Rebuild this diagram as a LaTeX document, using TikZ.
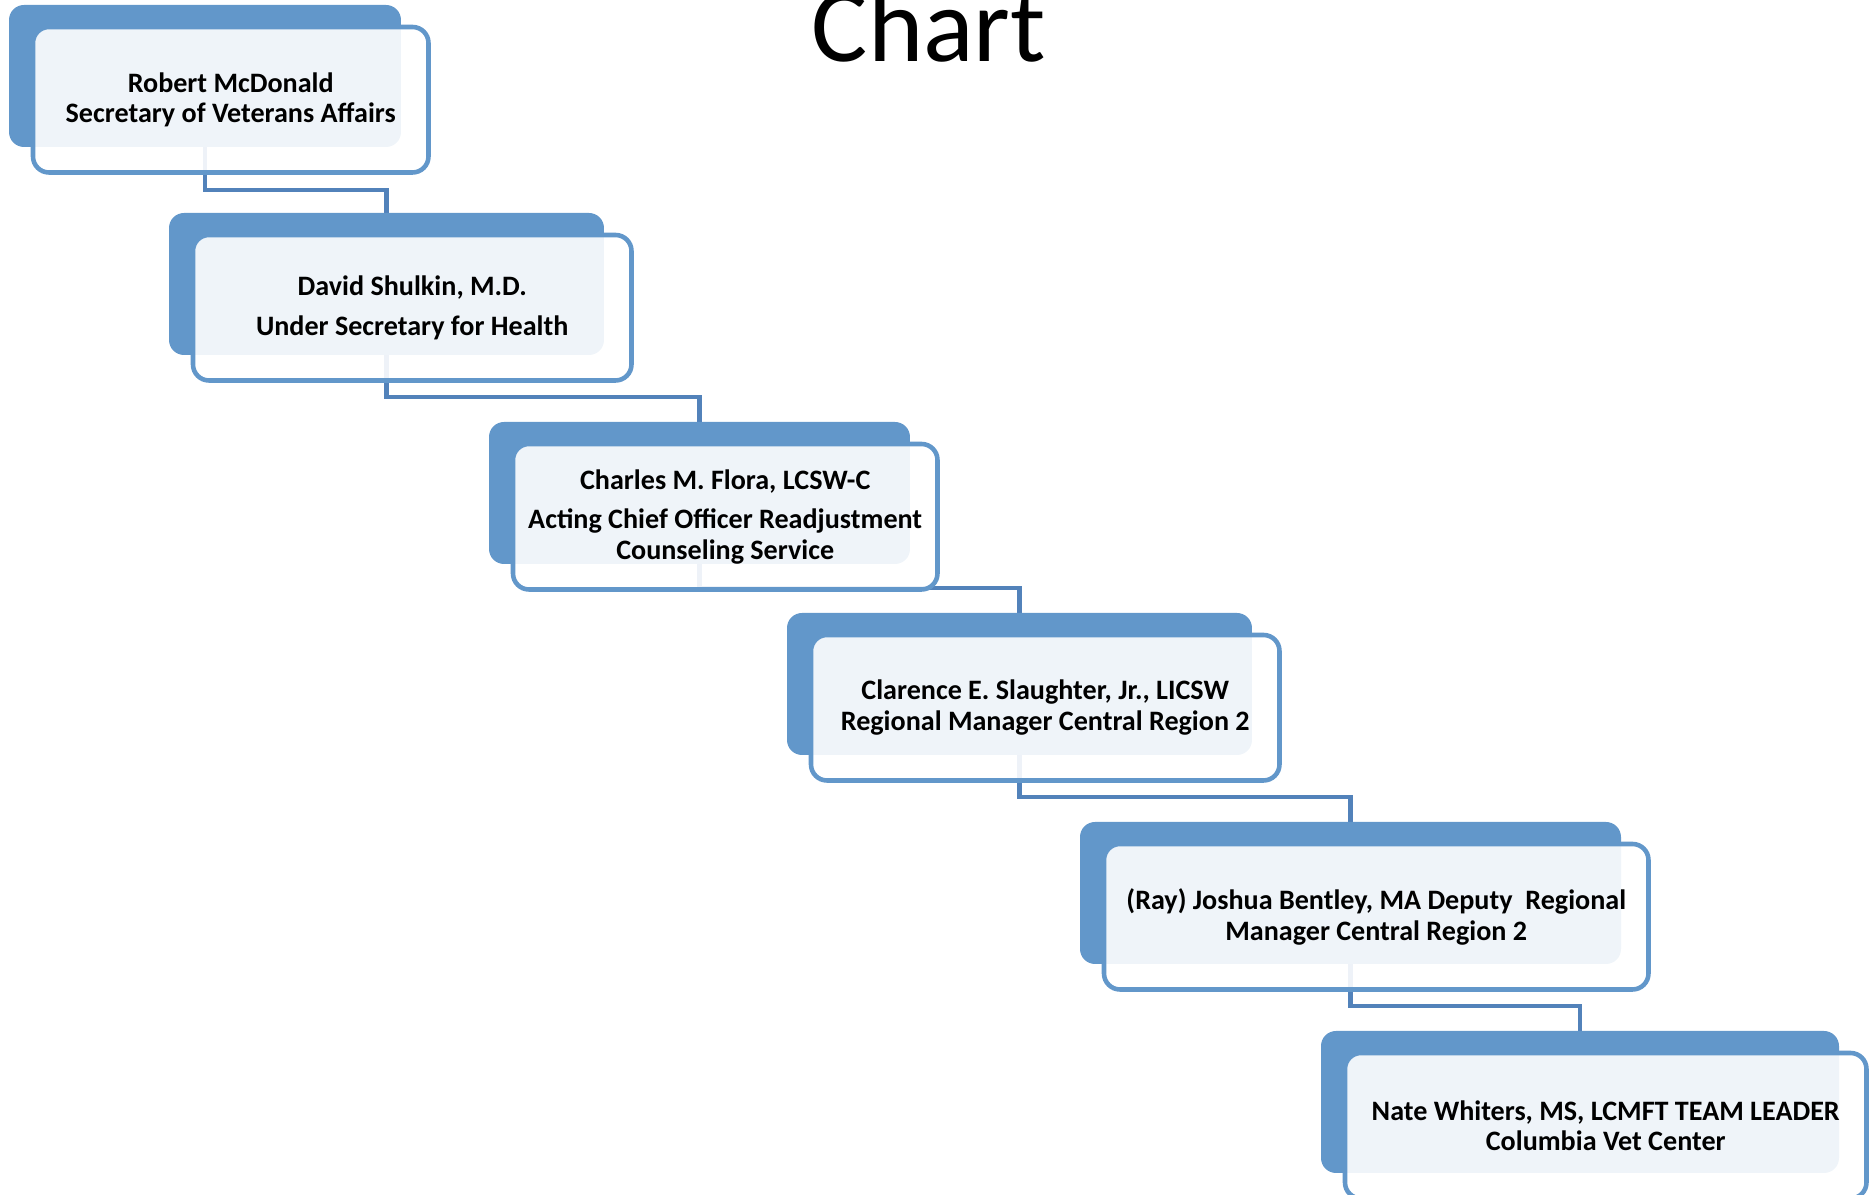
\documentclass[tikz,border=0pt]{standalone}
\usepackage{fontspec}
\setmainfont{Carlito}
\usetikzlibrary{positioning,backgrounds}
\definecolor{backblue}{RGB}{98,151,202}
\definecolor{linkblue}{RGB}{82,130,186}
\tikzset{
  back/.style={fill=backblue, rounded corners=1.5mm, inner sep=0, outer sep=0, anchor=north west, minimum height=14.2mm},
  card/.style={draw=backblue, line width=1.3pt, fill=white, fill opacity=0.9, text opacity=1,
    rounded corners=1.6mm, inner sep=0, outer sep=0, anchor=north west, minimum height=14.55mm,
    align=center, font=\bfseries\fontsize{8}{8.7}\selectfont,
    execute at begin node={\rule{0pt}{2.9mm}}},
  link/.style={draw=linkblue, line width=1.4pt}
}

\begin{document}
\begin{tikzpicture}[x=0.1mm, y=-0.1mm]
\useasboundingbox (0,0) rectangle (1876,1195);

\node[font=\fontsize{30}{36}\selectfont, anchor=base] (title) at (929,62) {Chart};

% back plates
\node[back, minimum width=39.2mm] (b1) at (9,5) {};
\node[back, minimum width=43.5mm] (b2) at (169,213) {};
\node[back, minimum width=42.1mm] (b3) at (489,422) {};
\node[back, minimum width=46.5mm] (b4) at (787,613) {};
\node[back, minimum width=54.1mm] (b5) at (1080,822) {};
\node[back, minimum width=51.8mm] (b6) at (1321,1031) {};

% text cards
\node[card, minimum width=39.55mm] (c1) at ([shift={(2.4mm,-2.2mm)}]b1.north west)
  {Robert McDonald\\Secretary of Veterans Affairs};
\node[card, minimum width=43.85mm] (c2) at ([shift={(2.4mm,-2.2mm)}]b2.north west)
  {David Shulkin, M.D.\\[2.6pt]Under Secretary for Health};
\node[card, minimum width=42.45mm] (c3) at ([shift={(2.4mm,-2.2mm)}]b3.north west)
  {Charles M. Flora, LCSW-C\\[2.6pt]Acting Chief Officer Readjustment\\Counseling Service};
\node[card, minimum width=46.85mm] (c4) at ([shift={(2.4mm,-2.2mm)}]b4.north west)
  {Clarence E. Slaughter, Jr., LICSW\\Regional Manager Central Region 2};
\node[card, minimum width=54.45mm] (c5) at ([shift={(2.4mm,-2.2mm)}]b5.north west)
  {(Ray) Joshua Bentley, MA Deputy~ Regional\\Manager Central Region 2};
\node[card, minimum width=52.15mm] (c6) at ([shift={(2.4mm,-2.2mm)}]b6.north west)
  {Nate Whiters, MS, LCMFT TEAM LEADER\\Columbia Vet Center};

% connectors
\begin{scope}[on background layer]
\draw[link] (b1.south) -- ++(0,43) -| (b2.north);
\draw[link] (b2.south) -- ++(0,42) -| (b3.north);
\draw[link] (b3.south) -- ++(0,24) -| (b4.north);
\draw[link] (b4.south) -- ++(0,42) -| (b5.north);
\draw[link] (b5.south) -- ++(0,42) -| (b6.north);
\end{scope}

\end{tikzpicture}
\end{document}
